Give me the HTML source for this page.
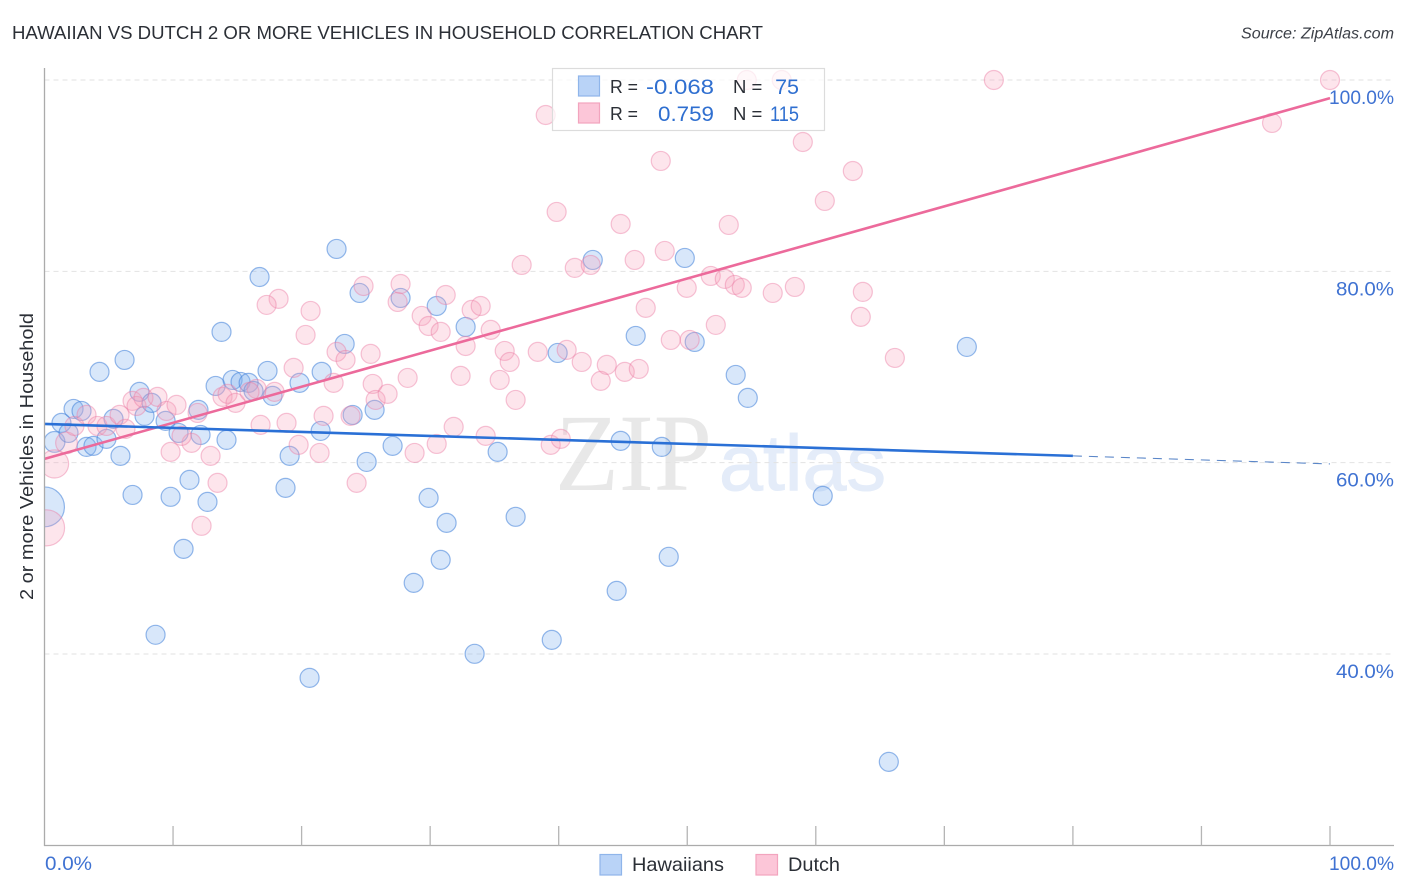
<!DOCTYPE html>
<html lang="en">
<head>
<meta charset="utf-8">
<title>Hawaiian vs Dutch 2 or more Vehicles in Household Correlation Chart</title>
<style>
html,body{margin:0;padding:0;background:#fff;}
body{width:1406px;height:892px;overflow:hidden;font-family:"Liberation Sans",sans-serif;}
svg{display:block;}
text{font-family:"Liberation Sans",sans-serif;}
</style>
</head>
<body>
<svg id="chart" xmlns="http://www.w3.org/2000/svg" width="1406" height="892" viewBox="0 0 1406 892">
  <defs>
    <clipPath id="plot-clip"><rect x="44.5" y="40" width="1361" height="805.5"/></clipPath>
  </defs>
  <rect x="0" y="0" width="1406" height="892" fill="#fff"/>
  <text x="12" y="39" font-size="18" fill="#2b2f36" textLength="751" lengthAdjust="spacingAndGlyphs">HAWAIIAN VS DUTCH 2 OR MORE VEHICLES IN HOUSEHOLD CORRELATION CHART</text>
  <text x="1241" y="38.500" font-size="15.500" font-style="italic" fill="#3c4048" textLength="153" lengthAdjust="spacingAndGlyphs">Source: ZipAtlas.com</text>
  <g>
    <text x="555" y="490" font-size="110" fill="#e8e8e8" textLength="157" lengthAdjust="spacingAndGlyphs" style="font-family:'Liberation Serif',serif">ZIP</text>
    <text x="719" y="490" font-size="79" fill="#e4ecf9" stroke="#e4ecf9" stroke-width="1" textLength="167" lengthAdjust="spacingAndGlyphs">atlas</text>
  </g>
  <g id="grid"></g>
  <g id="points" clip-path="url(#plot-clip)"></g>
  <g id="trends"></g>
  <g id="axes"></g>
  <text transform="translate(33,456.500) rotate(-90)" font-size="18.500" fill="#2b2f36" text-anchor="middle" textLength="287" lengthAdjust="spacingAndGlyphs">2 or more Vehicles in Household</text>
  <g>
    <rect x="552.500" y="68.500" width="272" height="62" fill="#fff" fill-opacity="0.72" stroke="#dcdcdc" stroke-width="1.200"/>
    <rect x="578.500" y="76" width="21" height="20" fill="#b9d3f7" stroke="#8fb5ea" stroke-width="1.200"/>
    <rect x="578.500" y="103" width="21" height="20" fill="#fcc6d8" stroke="#f2a4be" stroke-width="1.200"/>
    <text x="610" y="93" font-size="18.500" fill="#2b2f36" textLength="28" lengthAdjust="spacingAndGlyphs">R =</text>
    <text x="646" y="94" font-size="21.500" fill="#2f6fd0" textLength="68" lengthAdjust="spacingAndGlyphs">-0.068</text>
    <text x="733" y="93" font-size="18.500" fill="#2b2f36">N =</text>
    <text x="799" y="94" font-size="21.500" fill="#2f6fd0" text-anchor="end">75</text>
    <text x="610" y="120" font-size="18.500" fill="#2b2f36" textLength="28" lengthAdjust="spacingAndGlyphs">R =</text>
    <text x="658" y="121" font-size="21.500" fill="#2f6fd0" textLength="56" lengthAdjust="spacingAndGlyphs">0.759</text>
    <text x="733" y="120" font-size="18.500" fill="#2b2f36">N =</text>
    <text x="770" y="121" font-size="21.500" fill="#2f6fd0" textLength="29" lengthAdjust="spacingAndGlyphs">115</text>
  </g>
  <g>
    <rect x="600" y="854.500" width="21.500" height="20.500" fill="#b9d3f7" stroke="#8fb5ea" stroke-width="1.200"/>
    <text x="632" y="871" font-size="19.500" fill="#2b2f36" textLength="92" lengthAdjust="spacingAndGlyphs">Hawaiians</text>
    <rect x="756" y="854.500" width="21.500" height="20.500" fill="#fcc6d8" stroke="#f2a4be" stroke-width="1.200"/>
    <text x="788" y="871" font-size="19.500" fill="#2b2f36" textLength="52" lengthAdjust="spacingAndGlyphs">Dutch</text>
  </g>
</svg>
<script>
// Chart data
const yTicks = [40, 60, 80, 100];
const yTickLabels = ["40.0%", "60.0%", "80.0%", "100.0%"];
const xTicks = [10, 20, 30, 40, 50, 60, 70, 80, 90, 100];
const xEndLabels = ["0.0%", "100.0%"];

const hawaiiansX = [0,0.78,1.32,1.87,2.26,2.88,3.27,3.81,4.82,5.37,5.91,4.28,6.23,6.85,7.39,7.78,8.33,8.64,9.42,9.81,10.43,10.82,11.28,11.98,12.14,12.68,13.31,13.77,14.16,14.63,15.25,15.88,16.26,16.73,17.35,17.74,18.75,19.07,19.84,20.62,21.48,21.56,22.72,23.35,23.97,24.51,25.06,25.68,27.08,27.70,28.72,29.88,30.51,30.82,31.28,32.76,33.46,35.25,36.65,39.46,39.92,42.65,44.51,44.82,45.99,48.02,48.56,49.81,50.58,53.77,54.71,60.54,65.68,71.75];
const hawaiiansY = [55.38,62.17,64.16,63.11,65.62,65.41,61.65,61.76,62.49,64.58,60.71,69.49,70.74,56.63,67.40,64.89,66.25,42.01,64.37,56.43,63.11,50.99,58.20,65.52,62.90,55.90,68.02,73.67,62.38,68.65,68.44,68.34,67.50,79.41,69.59,66.98,57.37,60.71,68.34,37.51,63.32,69.49,82.34,72.41,64.99,77.74,60.08,65.52,61.76,77.22,47.44,56.32,76.38,49.84,53.71,74.19,40.02,61.13,54.34,41.48,71.47,81.19,46.60,62.28,73.25,61.65,50.16,81.40,72.62,69.17,66.77,56.53,28.73,72.10];
const hawaiiansWeight = [4.4,1.2,1,1,1,1,1,1,1,1,1,1,1,1,1,1,1,1,1,1,1,1,1,1,1,1,1,1,1,1,1,1,1,1,1,1,1,1,1,1,1,1,1,1,1,1,1,1,1,1,1,1,1,1,1,1,1,1,1,1,1,1,1,1,1,1,1,1,1,1,1,1,1,1];

const dutchX = [0.16,0.78,1.71,2.33,3.27,4.12,4.82,5.84,6.30,6.85,7.16,7.70,8.79,9.49,10.27,9.81,11.44,10.66,12.92,13.46,12.22,11.91,13.85,14.24,14.86,16.5,15.95,17.9,16.81,18.83,19.38,19.77,20.31,20.7,18.21,17.28,22.72,22.49,23.42,21.71,21.4,24.28,23.81,24.82,25.37,25.53,25.76,26.69,27.47,27.7,28.25,28.79,29.34,29.88,30.51,30.82,31.21,31.83,32.37,32.76,33.23,33.93,34.32,34.71,35.41,35.8,36.19,36.65,37.12,38.37,38.99,39.38,39.84,40.16,40.62,41.25,41.79,42.49,43.27,43.74,44.82,45.14,45.91,46.23,46.77,47.94,48.25,48.72,49.96,50.19,51.83,52.22,52.92,53.23,53.7,54.24,54.63,57.35,58.99,56.65,58.37,60.7,62.88,63.5,63.66,66.15,73.85,95.49,100];
const dutchY = [53.19,59.87,62.07,63.84,65.0,63.84,63.84,65.0,63.53,66.46,65.93,66.77,66.88,65.41,66.04,61.13,62.07,62.8,60.71,57.89,53.4,65.2,66.88,67.19,66.25,67.71,67.4,67.4,63.95,64.16,69.91,61.86,73.35,75.86,77.12,76.49,71.58,68.34,70.74,64.89,61.02,57.89,64.89,78.47,71.37,68.23,66.56,67.19,76.8,78.68,68.86,61.02,75.34,74.29,61.96,73.67,77.53,63.74,69.07,72.2,75.97,76.38,62.8,73.88,68.65,71.68,70.53,66.56,80.67,71.58,96.34,61.86,86.21,62.49,71.79,80.36,70.53,80.67,68.55,70.22,84.95,69.49,81.19,69.8,76.18,91.54,82.13,72.83,78.27,72.83,79.52,74.4,79.21,84.85,78.58,78.27,100,100,93.52,77.74,78.37,87.36,90.49,75.24,77.85,70.95,100,95.51,100];
const dutchWeight = [3.6,2.2,1.3,1,1,1,1,1,1,1,1,1,1,1,1,1,1,1,1,1,1,1,1,1,1,1,1,1,1,1,1,1,1,1,1,1,1,1,1,1,1,1,1,1,1,1,1,1,1,1,1,1,1,1,1,1,1,1,1,1,1,1,1,1,1,1,1,1,1,1,1,1,1,1,1,1,1,1,1,1,1,1,1,1,1,1,1,1,1,1,1,1,1,1,1,1,1,1,1,1,1,1,1,1,1,1,1,1,1];

const hawaiiansTrendX = [0, 80];
const hawaiiansTrendY = [64.05, 60.71];
const hawaiiansDashX = [80, 100];
const hawaiiansDashY = [60.71, 59.87];
const dutchTrendX = [0, 100];
const dutchTrendY = [60.4, 98.1];

// Axis functions
function xScale(v) { return 44.5 + v * 12.855; }
function yScale(v) { return 80 + (100 - v) * 9.567; }
function labelWidth(s) { return s.length >= 6 ? 65 : (s.length === 5 ? 58 : 47); }
const baseRadius = 9.5;
const svgNS = "http://www.w3.org/2000/svg";

function make(tag, parent, attrs) {
  const el = document.createElementNS(svgNS, tag);
  for (const k in attrs) el.setAttribute(k, attrs[k]);
  parent.appendChild(el);
  return el;
}

const gridG = document.getElementById("grid");
const axesG = document.getElementById("axes");
const pointsG = document.getElementById("points");
const trendsG = document.getElementById("trends");

yTicks.forEach(function (t, i) {
  const line = make("line", gridG, {x1: 44.5, x2: 1394, y1: yScale(t), y2: yScale(t), stroke: "#e2e2e2", "stroke-width": 1, "stroke-dasharray": "5 4"});
  
  
  const w = labelWidth(yTickLabels[i]);
  const label = make("text", axesG, {x: 1394 - w, y: yScale(t) + 24, "font-size": 19, fill: "#3f72d2", textLength: w, lengthAdjust: "spacingAndGlyphs"});
  label.textContent = yTickLabels[i];
  
  
});

const leftAxis = make("line", axesG, {x1: 44.5, x2: 44.5, y1: 68, y2: 846, stroke: "#ababab", "stroke-width": 1.3});


const bottomAxis = make("line", axesG, {x1: 44, x2: 1394, y1: 845.5, y2: 845.5, stroke: "#ababab", "stroke-width": 1.3});



xTicks.forEach(function (t) {
  const tick = make("line", axesG, {x1: xScale(t), x2: xScale(t), y1: 826, y2: 845.5, stroke: "#b5b5b5", "stroke-width": 1.3});
  
  
});

const xLabelLeft = make("text", axesG, {x: 45, y: 870, "font-size": 19, fill: "#3f72d2", textLength: labelWidth(xEndLabels[0]), lengthAdjust: "spacingAndGlyphs"});
xLabelLeft.textContent = xEndLabels[0];


const xLabelRight = make("text", axesG, {x: 1394 - labelWidth(xEndLabels[1]), y: 870, "font-size": 19, fill: "#3f72d2", textLength: labelWidth(xEndLabels[1]), lengthAdjust: "spacingAndGlyphs"});
xLabelRight.textContent = xEndLabels[1];



hawaiiansX.forEach(function (x, i) {
  const c = make("circle", pointsG, {cx: xScale(x), cy: yScale(hawaiiansY[i]), r: baseRadius * Math.sqrt(hawaiiansWeight[i]), fill: "#7fb0f0", "fill-opacity": 0.3, stroke: "#3f7fd8", "stroke-opacity": 0.55, "stroke-width": 1.2});
  
  
});
dutchX.forEach(function (x, i) {
  const c = make("circle", pointsG, {cx: xScale(x), cy: yScale(dutchY[i]), r: baseRadius * Math.sqrt(dutchWeight[i]), fill: "#f7a0bc", "fill-opacity": 0.28, stroke: "#ec7da3", "stroke-opacity": 0.45, "stroke-width": 1.2});
  
  
});

const dutchLine = make("line", trendsG, {x1: xScale(dutchTrendX[0]), y1: yScale(dutchTrendY[0]), x2: xScale(dutchTrendX[1]), y2: yScale(dutchTrendY[1]), stroke: "#ec6a9b", "stroke-width": 2.6});


const hawaiiansLine = make("line", trendsG, {x1: xScale(hawaiiansTrendX[0]), y1: yScale(hawaiiansTrendY[0]), x2: xScale(hawaiiansTrendX[1]), y2: yScale(hawaiiansTrendY[1]), stroke: "#2a70d6", "stroke-width": 2.6});


const hawaiiansDash = make("line", trendsG, {x1: xScale(hawaiiansDashX[0]), y1: yScale(hawaiiansDashY[0]), x2: xScale(hawaiiansDashX[1]), y2: yScale(hawaiiansDashY[1]), stroke: "#5a86c8", "stroke-width": 1.1, "stroke-dasharray": "9 7"});


</script>
</body>
</html>
